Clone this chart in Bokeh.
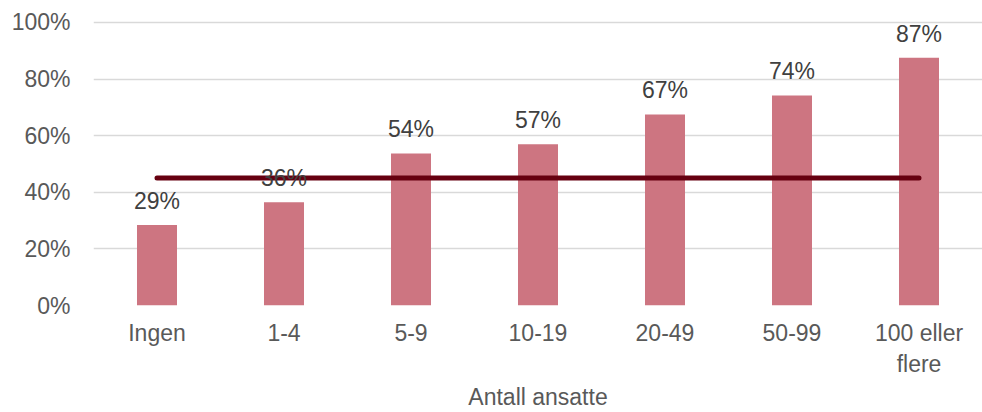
from bokeh.plotting import figure
from bokeh.models import Range1d, FixedTicker, ColumnDataSource, LabelSet
from bokeh.core.properties import value
from bokeh.embed import file_html
from bokeh.resources import INLINE

categories = ["Ingen", "1-4", "5-9", "10-19", "20-49", "50-99", "100 eller\nflere"]
shares = [28.4, 36.5, 53.7, 57.0, 67.5, 74.2, 87.5]
share_labels = ["29%", "36%", "54%", "57%", "67%", "74%", "87%"]
average = [45, 45, 45, 45, 45, 45, 45]
y_ticks = [0, 20, 40, 60, 80, 100]
y_tick_labels = ["0%", "20%", "40%", "60%", "80%", "100%"]
x_title = "Antall ansatte"

FONT = "Liberation Sans"
xs = list(range(len(categories)))

p = figure(width=982, height=412, output_backend="svg", toolbar_location=None,
           x_range=Range1d(-0.5, 6.5), y_range=Range1d(0, 102.1))
p.min_border_left = 93
p.min_border_right = 0
p.min_border_top = 16
p.min_border_bottom = 106
p.outline_line_color = None
p.background_fill_color = "white"
p.border_fill_color = "white"

src = ColumnDataSource(dict(x=xs, top=shares, label=share_labels, avg=average))
p.vbar(x="x", top="top", width=0.315, bottom=0, source=src,
       fill_color="#CD7581", line_color=None)
p.line(x="x", y="avg", source=src, line_color="#660010", line_width=5,
       line_cap="round")

labels = LabelSet(x="x", y="top", text="label", source=src, y_offset=16,
                  text_align="center", text_baseline="alphabetic",
                  text_font=value(FONT), text_font_size=value("23px"),
                  text_color="#404040")
p.add_layout(labels)

p.xgrid.grid_line_color = None
p.ygrid.grid_line_color = "#D9D9D9"
p.ygrid.grid_line_width = 1.3
p.ygrid.ticker = FixedTicker(ticks=y_ticks)

p.yaxis.ticker = FixedTicker(ticks=y_ticks)
p.yaxis.major_label_overrides = {t: l for t, l in zip(y_ticks, y_tick_labels)}
p.yaxis.axis_line_color = None
p.yaxis.major_tick_line_color = None
p.yaxis.minor_tick_line_color = None
p.yaxis.major_label_text_font = FONT
p.yaxis.major_label_text_font_size = "23px"
p.yaxis.major_label_text_color = "#595959"
p.yaxis.major_label_standoff = 17

p.xaxis.ticker = FixedTicker(ticks=xs)
p.xaxis.major_label_overrides = {i: c for i, c in zip(xs, categories)}
p.xaxis.axis_line_color = None
p.xaxis.major_tick_line_color = None
p.xaxis.minor_tick_line_color = None
p.xaxis.major_label_text_font = FONT
p.xaxis.major_label_text_font_size = "23px"
p.xaxis.major_label_text_color = "#595959"
p.xaxis.major_label_standoff = 8
p.xaxis.axis_label = x_title
p.xaxis.axis_label_text_font = FONT
p.xaxis.axis_label_text_font_size = "23px"
p.xaxis.axis_label_text_font_style = "normal"
p.xaxis.axis_label_text_color = "#595959"
p.xaxis.axis_label_standoff = 4

open("out.html", "w").write(file_html(p, INLINE))
